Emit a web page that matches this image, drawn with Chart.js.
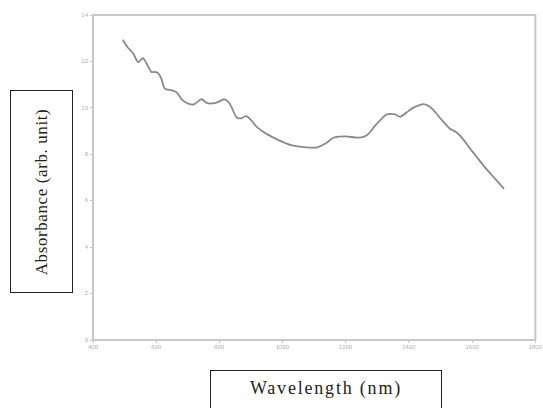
<!DOCTYPE html>
<html>
<head>
<meta charset="utf-8">
<script src="https://cdn.jsdelivr.net/npm/chart.js@4.4.1/dist/chart.umd.min.js"></script>
<style>
    html, body { margin: 0; padding: 0; background: #fff; }
    #wrap { position: relative; width: 543px; height: 408px; overflow: hidden; }
    #chart { position: absolute; left: 0; top: 0; }
    .lbl {
        position: absolute;
        border: 1.5px solid #222;
        background: #fff;
        font-family: "Liberation Serif", "DejaVu Serif", serif;
        color: #222;
        box-sizing: border-box;
    }
    #ylbl { left: 10px; top: 90px; width: 63px; height: 203px; }
    #ylbl span {
        position: absolute; left: 50%; top: 50%;
        transform: translate(-50%, -50%) rotate(-90deg);
        white-space: nowrap; font-size: 17px; letter-spacing: 0.6px;
    }
    #xlbl { left: 210px; top: 370px; width: 232px; height: 50px; }
    #xlbl span {
        position: absolute; left: 0; right: 0; top: 7px;
        text-align: center; font-size: 18px; letter-spacing: 1.8px;
    }
</style>
</head>
<body>
<div id="wrap">
    <canvas id="chart" width="543" height="408"></canvas>
    <div id="ylbl" class="lbl"><span>Absorbance (arb. unit)</span></div>
    <div id="xlbl" class="lbl"><span>Wavelength (nm)</span></div>
</div>
<script>
// wavelength (nm) and absorbance
const wavelengths = [494, 510, 527, 543, 558, 572, 585, 595, 606, 616, 627, 649, 665, 683, 706, 721,
    743, 762, 784, 800, 816, 832, 854, 869, 885, 901, 920, 948, 989, 1030, 1074, 1109,
    1140, 1162, 1199, 1236, 1257, 1273, 1291, 1314, 1330, 1357, 1372, 1399, 1414, 1446,
    1467, 1484, 1503, 1530, 1550, 1566, 1598, 1640, 1669, 1701];
const absorbance = [12.93, 12.6, 12.35, 11.97, 12.14, 11.85, 11.54, 11.55, 11.5, 11.27, 10.83, 10.76, 10.67, 10.33, 10.16, 10.16,
    10.37, 10.2, 10.2, 10.28, 10.37, 10.2, 9.6, 9.55, 9.64, 9.46, 9.16, 8.89, 8.6, 8.38, 8.3, 8.3,
    8.5, 8.72, 8.77, 8.72, 8.75, 8.89, 9.2, 9.54, 9.72, 9.72, 9.61, 9.87, 10.01, 10.16,
    10.04, 9.8, 9.49, 9.1, 8.95, 8.74, 8.17, 7.45, 7.0, 6.51];

const xTicks = [400, 600, 800, 1000, 1200, 1400, 1600, 1800];
const yTicks = [0, 2, 4, 6, 8, 10, 12, 14];

const axisColor = '#c8c8c8';
const tickFont = { family: 'Arial, "Liberation Sans", sans-serif', size: 6 };

// draws the top and right sides of the axes box
const boxPlugin = {
    id: 'boxPlugin',
    afterDraw(chart) {
        const a = chart.chartArea;
        const ctx = chart.ctx;
        ctx.save();
        ctx.strokeStyle = axisColor;
        ctx.lineWidth = 2;
        ctx.strokeRect(a.left, a.top, a.right - a.left, a.bottom - a.top);
        ctx.restore();
    }
};

const points = wavelengths.map((w, i) => ({ x: w, y: absorbance[i] }));

new Chart(document.getElementById('chart'), {
    type: 'line',
    data: {
        datasets: [{
            data: points,
            borderColor: '#8a8a8a',
            borderWidth: 1.8,
            pointRadius: 0,
            tension: 0.25,
            fill: false
        }]
    },
    options: {
        responsive: false,
        animation: false,
        layout: { padding: { left: 0, top: 15, right: 2, bottom: 56 } },
        plugins: { legend: { display: false }, tooltip: { enabled: false } },
        scales: {
            x: {
                type: 'linear',
                min: 400,
                max: 1800,
                afterBuildTicks: (s) => { s.ticks = xTicks.map(v => ({ value: v })); },
                afterFit: (s) => { s.height = 12; },
                grid: { drawOnChartArea: false, tickLength: 3, color: axisColor },
                border: { color: axisColor, width: 2 },
                ticks: { color: '#b0b0b0', font: tickFont, padding: 1, maxRotation: 0,
                    callback: (v) => String(v) }
            },
            y: {
                min: 0,
                max: 14,
                afterBuildTicks: (s) => { s.ticks = yTicks.map(v => ({ value: v })); },
                afterFit: (s) => { s.width = 93; },
                grid: { drawOnChartArea: false, tickLength: 3, color: axisColor },
                border: { color: axisColor, width: 2 },
                ticks: { color: '#b0b0b0', font: tickFont, padding: 2,
                    callback: (v) => String(v) }
            }
        }
    },
    plugins: [boxPlugin]
});
</script>
</body>
</html>
